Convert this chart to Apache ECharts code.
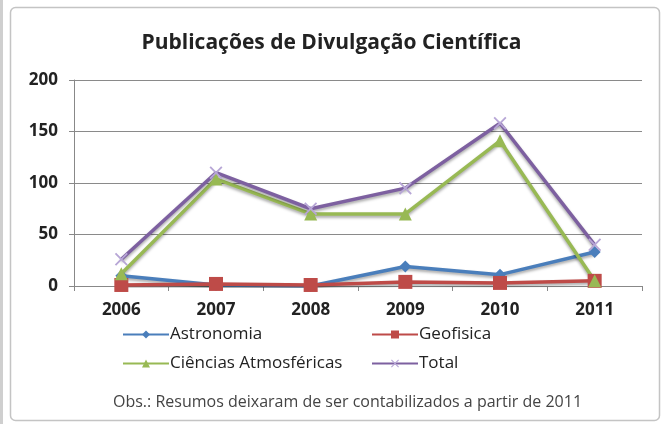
<!DOCTYPE html>
<html>
<head>
<meta charset="utf-8">
<script src="https://cdn.jsdelivr.net/npm/echarts@6/dist/echarts.min.js"></script>
<style>
  html, body { margin: 0; padding: 0; background: #fff; }
  #chart { width: 663px; height: 424px; }
</style>
</head>
<body>
<div id="chart"></div>
<script>
// valores
var anos = ['2006', '2007', '2008', '2009', '2010', '2011'];
var astronomia = [10, 1, 0, 19, 11, 33];
var geofisica = [1, 2, 1, 4, 3, 5];
var atmosfericas = [12, 104, 70, 70, 141, 5];
var total = [26, 110, 75, 95, 158, 40];
var yTicks = [0, 50, 100, 150, 200];

var FONT = '"Open Sans", Lato, sans-serif';
var xMark = 'path://M0,1L1,0L5,4L9,0L10,1L6,5L10,9L9,10L5,6L1,10L0,9L4,5Z';

function serie(nome, dados, cor, simbolo, tam, corMarca) {
    return {
        name: nome,
        type: 'line',
        data: dados,
        symbol: simbolo,
        symbolSize: tam,
        showAllSymbol: true,
        lineStyle: {
            color: cor, width: 3.5,
            shadowColor: 'rgba(0,0,0,0.35)', shadowBlur: 3, shadowOffsetY: 2
        },
        itemStyle: { color: corMarca || cor, borderWidth: 0 },
        emphasis: { disabled: true }
    };
}

function legenda(nome, left, top) {
    return {
        data: [nome],
        left: left, top: top,
        itemWidth: 46, itemHeight: 10, itemGap: 0,
        textStyle: { fontFamily: FONT, fontSize: 17, color: '#222', padding: [0, 0, 0, -4] },
        padding: 0
    };
}

var myChart = echarts.init(document.getElementById('chart'));
myChart.setOption({
    animation: false,
    backgroundColor: '#fff',
    title: {
        text: 'Publicações de Divulgação Científica',
        left: 'center', top: 28,
        textStyle: { fontFamily: FONT, fontSize: 21, fontWeight: 'bold', color: '#222' }
    },
    graphic: [
        { type: 'rect', shape: { x: 0, y: 0, width: 3, height: 424 }, style: { fill: '#cfcfcf' } },
        { type: 'rect', shape: { x: 10.5, y: 7.5, width: 649, height: 413, r: 5 },
          style: { fill: 'none', stroke: '#c4c4c4', lineWidth: 1.5 } },
        { type: 'text', left: 113, top: 394,
          style: { text: 'Obs.: Resumos deixaram de ser contabilizados a partir de 2011',
                   fontFamily: FONT, fontSize: 16, fill: '#444' } }
    ],
    legend: [
        legenda('Astronomia', 122, 326),
        legenda('Geofisica', 371, 326),
        legenda('Ciências Atmosféricas', 122, 355),
        legenda('Total', 371, 355)
    ],
    grid: { left: 74, right: 21, top: 80, bottom: 138 },
    xAxis: {
        type: 'category',
        data: anos,
        axisLine: { lineStyle: { color: '#888', width: 1 } },
        axisTick: { show: true, length: 5, lineStyle: { color: '#888' } },
        axisLabel: { fontFamily: FONT, fontSize: 17, fontWeight: 'bold', color: '#222', margin: 16 }
    },
    yAxis: {
        type: 'value',
        min: yTicks[0], max: yTicks[yTicks.length - 1], interval: 50,
        axisLine: { show: true, lineStyle: { color: '#888', width: 1 } },
        axisTick: { show: true, length: 5, lineStyle: { color: '#888' } },
        splitLine: { lineStyle: { color: '#8a8a8a', width: 1 } },
        axisLabel: { fontFamily: FONT, fontSize: 17, fontWeight: 'bold', color: '#222', margin: 16 }
    },
    series: [
        serie('Astronomia', astronomia, '#4a7ebb', 'diamond', 12),
        serie('Geofisica', geofisica, '#be4b48', 'rect', 14),
        serie('Ciências Atmosféricas', atmosfericas, '#98b954', 'triangle', 13),
        serie('Total', total, '#7d60a0', xMark, 13, '#b7a6d6')
    ]
});
</script>
</body>
</html>
